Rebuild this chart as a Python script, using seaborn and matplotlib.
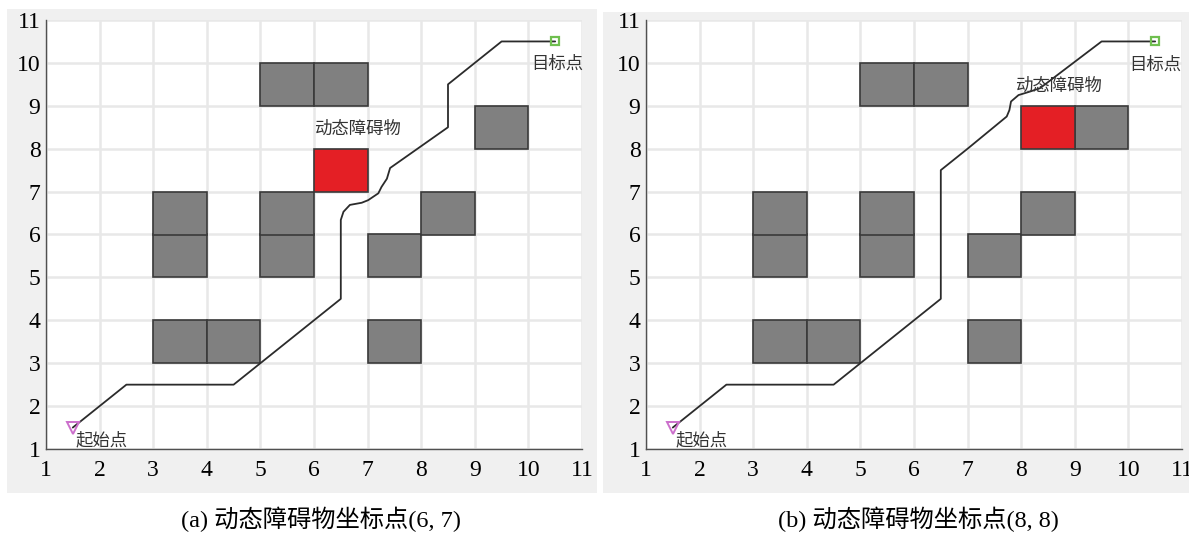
import matplotlib
matplotlib.use("Agg")
import matplotlib.pyplot as plt
from matplotlib.patches import Rectangle
import pandas as pd
import seaborn as sns

# ---- grid map data ----
ticks = list(range(1, 12))
static_cells_x = [3, 4, 3, 3, 5, 5, 5, 6, 7, 8, 7, 9]
static_cells_y = [3, 3, 5, 6, 5, 6, 9, 9, 5, 6, 3, 8]
dynamic_cell_a = (6, 7)
dynamic_cell_b = (8, 8)

start_point = (1.5, 1.5)
goal_point = (10.5, 10.5)

path_a_x = [1.5, 2.5, 4.5, 5.0, 6.0, 6.5, 6.5, 6.55, 6.67, 6.89, 7.01, 7.2, 7.26, 7.36, 7.42, 8.5, 8.5, 9.5, 10.5]
path_a_y = [1.5, 2.5, 2.5, 3.0, 4.0, 4.5, 6.34, 6.53, 6.69, 6.74, 6.80, 6.96, 7.11, 7.30, 7.55, 8.5, 9.5, 10.5, 10.5]

path_b_x = [1.5, 2.5, 4.5, 5.0, 6.0, 6.5, 6.5, 7.0, 7.73, 7.78, 7.81, 7.95, 8.16, 8.35, 9.5, 10.5]
path_b_y = [1.5, 2.5, 2.5, 3.0, 4.0, 4.5, 7.5, 8.0, 8.75, 8.90, 9.10, 9.25, 9.33, 9.41, 10.5, 10.5]

captions = ["(a) 动态障碍物坐标点(6, 7)", "(b) 动态障碍物坐标点(8, 8)"]
label_start = "起始点"
label_goal = "目标点"
label_dynamic = "动态障碍物"

sns.set_theme(style="white")
plt.rcParams["font.family"] = ["Liberation Serif", "Noto Sans CJK SC", "DejaVu Sans"]

W, H = 1189, 533
fig = plt.figure(figsize=(W / 100, H / 100), dpi=100, facecolor="white")

panel_bg = "#f0f0f0"
GRAY = "#808080"
RED = "#e41f25"
EDGE = "#3a3a3a"
CJK = ["Noto Sans CJK SC", "DejaVu Sans"]


def px_rect(x0, y0, x1, y1):
    return [x0 / W, (H - y1) / H, (x1 - x0) / W, (y1 - y0) / H]


# light gray panel backgrounds on a backdrop axes
bg = fig.add_axes([0, 0, 1, 1], zorder=-5)
bg.set_xlim(0, W)
bg.set_ylim(H, 0)
bg.axis("off")
for x0, y0, x1, y1 in [(7, 9, 597, 493), (603, 12, 1189, 493)]:
    bg.add_patch(Rectangle((x0, y0), x1 - x0, y1 - y0,
                           facecolor=panel_bg, edgecolor="none"))

panels = [
    dict(rect=px_rect(46, 20, 582, 449), dyn=dynamic_cell_a, px=path_a_x, py=path_a_y,
         dyn_label=(6.0, 8.47), goal_label=(10.05, 9.97), start_label=(1.55, 1.21),
         cap_x=321),
    dict(rect=px_rect(646, 20, 1182, 449), dyn=dynamic_cell_b, px=path_b_x, py=path_b_y,
         dyn_label=(7.88, 9.47), goal_label=(10.02, 9.95), start_label=(1.55, 1.2),
         cap_x=918),
]

for i, p in enumerate(panels):
    ax = fig.add_axes(p["rect"])
    ax.set_facecolor("white")
    ax.set_xlim(1, 11)
    ax.set_ylim(1, 11)
    ax.set_xticks(ticks)
    ax.set_yticks(ticks)
    ax.grid(True, color="#e8e8e8", linewidth=1.8, zorder=0)
    ax.set_axisbelow(True)
    for s in ["top", "right"]:
        ax.spines[s].set_visible(False)
    for s in ["left", "bottom"]:
        ax.spines[s].set_color("#505050")
        ax.spines[s].set_linewidth(1.0)
    ax.tick_params(axis="both", direction="in", length=3.5, width=0.8, color="#505050",
                   labelsize=17, labelcolor="black")
    ax.tick_params(axis="x", pad=8)
    ax.tick_params(axis="y", pad=4)
    for lab in ax.get_xticklabels() + ax.get_yticklabels():
        lab.set_fontfamily(["Liberation Serif"])

    # obstacles
    for cx, cy in zip(static_cells_x, static_cells_y):
        ax.add_patch(Rectangle((cx, cy), 1, 1, facecolor=GRAY, edgecolor=EDGE,
                               linewidth=1.2, zorder=2))
    dx, dy = p["dyn"]
    ax.add_patch(Rectangle((dx, dy), 1, 1, facecolor=RED, edgecolor=EDGE,
                           linewidth=1.2, zorder=2))

    # planned path
    df = pd.DataFrame({"x": p["px"], "y": p["py"]})
    sns.lineplot(data=df, x="x", y="y", sort=False, estimator=None, ax=ax,
                 color="#2b2b2b", linewidth=1.3, zorder=4)
    ax.set_xlabel("")
    ax.set_ylabel("")

    # start / goal markers
    ax.plot([start_point[0]], [start_point[1]], marker="v", markersize=8,
            markerfacecolor="none", markeredgecolor="#cc6fcc", markeredgewidth=1.4,
            linestyle="none", zorder=5)
    ax.plot([goal_point[0]], [goal_point[1]], marker="s", markersize=5.5,
            markerfacecolor="none", markeredgecolor="#6fbf4f", markeredgewidth=1.6,
            linestyle="none", zorder=5)

    ax.text(*p["dyn_label"], label_dynamic, family=CJK, fontsize=12.5, color="#333333",
            ha="left", va="center", zorder=6)
    ax.text(*p["goal_label"], label_goal, family=CJK, fontsize=12.5, color="#333333",
            ha="left", va="center", zorder=6)
    ax.text(*p["start_label"], label_start, family=CJK, fontsize=12.5, color="#333333",
            ha="left", va="center", zorder=6)

    fig.text(p["cap_x"] / W, (H - 519) / H, captions[i],
             family=["Liberation Serif", "Noto Sans CJK SC"], fontsize=17.5,
             color="black", ha="center", va="center")

fig.savefig("out.png", dpi=100, facecolor="white")
